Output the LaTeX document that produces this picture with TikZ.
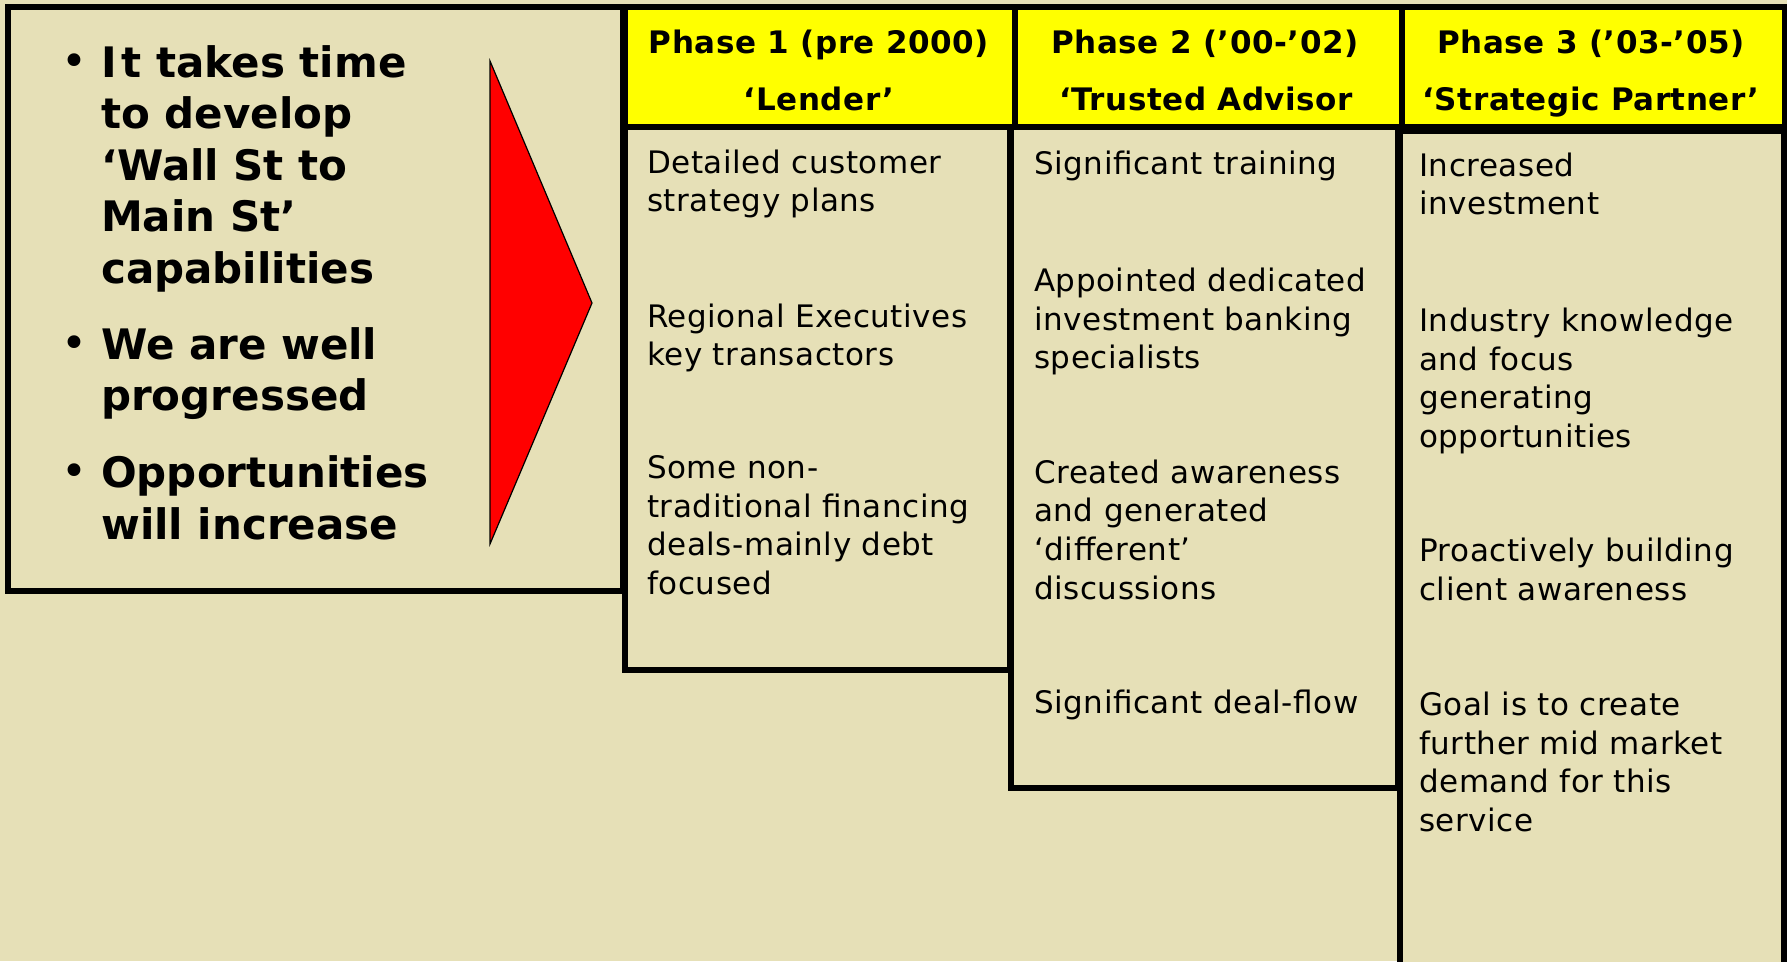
\documentclass[tikz,border=0pt]{standalone}
\usepackage{fontspec}
\setmainfont{DejaVu Sans}
\newfontfamily\widefam[LetterSpace=1.8]{DejaVu Sans}
\definecolor{paper}{RGB}{230,224,183}
\definecolor{headyellow}{RGB}{255,255,0}
\definecolor{arrowred}{RGB}{255,0,0}
\newcommand\leftfont{\fontsize{42}{51.5}\selectfont\bfseries}
\newcommand\headfont{\widefam\fontsize{31}{38.6}\selectfont\bfseries}
\newcommand\bodyfont{\widefam\fontsize{31}{38.6}\selectfont}
\newcommand\dotfont{\fontsize{44}{50}\selectfont}
\tikzset{
  frame/.style={draw=black, line width=6pt, line join=miter},
  headbox/.style={frame, fill=headyellow},
  bodybox/.style={frame, fill=paper},
  bodytext/.style={anchor=north west, inner sep=0pt, align=left, font=\bodyfont},
  headtext/.style={anchor=base, inner sep=0pt, font=\headfont},
  pointtext/.style={anchor=north west, inner sep=0pt, align=left, font=\leftfont},
  bulletmark/.style={anchor=base, inner sep=0pt, font=\dotfont},
}
\begin{document}
\begin{tikzpicture}[x=1pt,y=-1pt]
  % page and background
  \fill[paper] (0,0) rectangle (1787,961);
  \useasboundingbox (0,0) rectangle (1787,961);

  % summary panel with its arrow
  \draw[bodybox] (8,7) rectangle (622.5,591);
  \filldraw[fill=arrowred, draw=black, line width=1.2pt, line join=miter]
    (490,61) -- (592,303) -- (490,544) -- cycle;

  \node[bulletmark] (b1) at (74,76) {•};
  \node[bulletmark] (b2) at (74,358) {•};
  \node[bulletmark] (b3) at (74,486.5) {•};
  \node[pointtext] (p1) at (101,{77-36.05}) {\strut I\kern5pt t takes time\\to develop\\‘Wall St to\\Main St’\\capabilities};
  \node[pointtext] (p2) at (101,{359-36.05}) {\strut We are well\\progressed};
  \node[pointtext] (p3) at (101,{487.5-36.05}) {\strut Opportunities\\will increase};

  % phase columns
  \begin{scope}
    \clip (0,0) rectangle (1787,961);
    \draw[bodybox] (1400,131) rectangle (1784,990);
  \end{scope}
  \draw[bodybox] (1011,127) rectangle (1398,788);
  \draw[bodybox] (625,127) rectangle (1010,670);

  \draw[headbox] (625,7) rectangle (1015,126.5);
  \draw[headbox] (1015,7) rectangle (1401.5,126.5);
  \draw[headbox] (1402,7) rectangle (1784.5,126.5);

  % headings
  \node[headtext] (h1a) at (819,53.3) {Phase 1 (pre 2000)};
  \node[headtext] (h1b) at (819,110.7) {‘Lender’};
  \node[headtext] (h2a) at (1205,53.3) {Phase 2 (’00-’02)};
  \node[headtext] (h2b) at (1206,110.7) {‘Trusted Advisor};
  \node[headtext] (h3a) at (1591,53.3) {Phase 3 (’03-’05)};
  \node[headtext] (h3b) at (1591,110.7) {‘Strategic Partner’};

  % phase 1 items
  \node[bodytext] (c1a) at (647,{173-27}) {\strut Detailed customer\\strategy plans};
  \node[bodytext] (c1b) at (647,{327-27}) {\strut Regional Executives\\key transactors};
  \node[bodytext] (c1c) at (647,{478.5-27}) {\strut Some non-\\traditional financing\\deals-mainly debt\\focused};

  % phase 2 items
  \node[bodytext] (c2a) at (1034,{174-27}) {\strut Significant training};
  \node[bodytext] (c2b) at (1034,{291.5-27}) {\strut Appointed dedicated\\investment banking\\specialists};
  \node[bodytext] (c2c) at (1034,{483-27}) {\strut Created awareness\\and generated\\‘different’\\discussions};
  \node[bodytext] (c2d) at (1034,{713-27}) {\strut Significant deal-flow};

  % phase 3 items
  \node[bodytext] (c3a) at (1419,{176-27}) {\strut Increased\\investment};
  \node[bodytext] (c3b) at (1419,{331.5-27}) {\strut Industry knowledge\\and focus\\generating\\opportunities};
  \node[bodytext] (c3c) at (1419,{561.5-27}) {\strut Proactively building\\client awareness};
  \node[bodytext] (c3d) at (1419,{715.5-27}) {\strut Goal is to create\\further mid market\\demand for this\\service};
\end{tikzpicture}
\end{document}
